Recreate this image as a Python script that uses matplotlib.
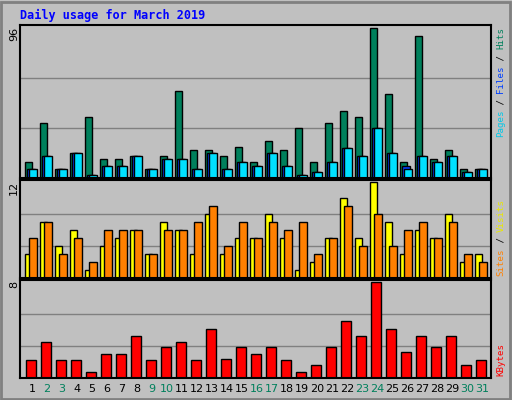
import matplotlib
matplotlib.use('Agg')
import matplotlib.pyplot as plt
from matplotlib.patches import Rectangle
import numpy as np

days = list(range(1, 32))
weekend = [2, 3, 9, 10, 16, 17, 23, 24, 30, 31]
hits = [10, 35, 6, 16, 39, 12, 12, 14, 6, 14, 56, 18, 18, 14, 20, 10,
        24, 18, 32, 10, 35, 43, 39, 96, 54, 10, 91, 12, 18, 6, 6]
files = [6, 14, 6, 16, 2, 8, 8, 14, 6, 12, 12, 6, 16, 6, 10, 8,
         16, 8, 2, 4, 10, 19, 14, 32, 16, 8, 14, 10, 14, 4, 6]
pages = [6, 14, 6, 16, 2, 8, 8, 14, 6, 12, 12, 6, 16, 6, 10, 8,
         16, 8, 2, 4, 10, 19, 14, 32, 16, 6, 14, 10, 14, 4, 6]
visits = [3, 7, 4, 6, 1, 4, 5, 6, 3, 7, 6, 3, 8, 3, 5, 5,
          8, 5, 1, 2, 5, 10, 5, 12, 7, 3, 6, 5, 8, 2, 3]
sites = [5, 7, 3, 5, 2, 6, 6, 6, 3, 6, 6, 7, 9, 4, 7, 5,
         7, 6, 7, 3, 5, 9, 4, 8, 4, 6, 7, 5, 7, 3, 2]
kbytes = [1.5, 3.0, 1.5, 1.5, 0.5, 2.0, 2.0, 3.5, 1.5, 2.55, 3.0, 1.5, 4.05, 1.6, 2.55, 2.0,
          2.55, 1.5, 0.5, 1.05, 2.55, 4.75, 3.5, 8.0, 4.05, 2.2, 3.5, 2.55, 3.5, 1.05, 1.5]

W, H = 512, 400
bg = '#c0c0c0'
fig = plt.figure(figsize=(W / 100, H / 100), dpi=100, facecolor=bg)
mono = 'DejaVu Sans Mono'
slot = 15.0  # px per day

def px_axes(x0, y0, x1, y1):
    return fig.add_axes([x0 / W, 1 - y1 / H, (x1 - x0) / W, (y1 - y0) / H])

x = np.arange(31)

def setup(ax, top):
    ax.set_facecolor(bg)
    ax.set_xlim(0, 471 / slot)
    ax.set_ylim(0, top * 1.02)
    ax.set_xticks([])
    ax.set_yticks([])
    for s in ax.spines.values():
        s.set_linewidth(1.5)
        s.set_color('black')
    for g in (top / 3, top * 2 / 3):
        ax.axhline(g, color='#808080', lw=1, zorder=0)

# top panel: hits / files / pages
ax1 = px_axes(20, 25, 491, 178)
setup(ax1, 96)
kw = dict(align='edge', edgecolor='black', linewidth=1)
ax1.bar(x + 0.33, hits, 0.5, color='#00805c', **kw)
ax1.bar(x + 0.47, files, 0.5, color='#0040ff', **kw)
ax1.bar(x + 0.6, pages, 0.5, color='#00e0ff', **kw)

# middle panel: visits / sites
ax2 = px_axes(20, 180, 491, 278)
setup(ax2, 12)
ax2.bar(x + 0.33, visits, 0.5, color='#ffff00', **kw)
ax2.bar(x + 0.6, sites, 0.5, color='#ff8000', **kw)

# bottom panel: kbytes
ax3 = px_axes(20, 280, 491, 378)
setup(ax3, 8)
ax3.bar(x + 0.4, kbytes, 0.66, color='#ff0000', **kw)

# day labels
for i, d in enumerate(days):
    c = '#00805c' if d in weekend else 'black'
    fig.text((20 + (i + 0.8) * slot) / W, 1 - 389 / H, str(d), color=c,
             fontsize=8, ha='center', va='center')

fig.text(20 / W, 1 - 15 / H, 'Daily usage for March 2019', color='#0000ff',
         fontsize=8.5, fontweight='bold', family=mono, va='center')

for yy, lab in [(27, '96'), (181, '12'), (281, '8')]:
    fig.text(14 / W, 1 - yy / H, lab, rotation=90, fontsize=8, ha='center', va='top')

def right_label(ymid, parts):
    # parts listed from bottom to top
    n = sum(len(t) for t, _ in parts)
    step = 5.5
    y = ymid + n * step / 2
    for t, c in parts:
        fig.text(501 / W, 1 - y / H, t, rotation=90, color=c, fontsize=6.6,
                 family=mono, ha='center', va='bottom')
        y -= len(t) * step

right_label(82, [('Pages', '#00c8e8'), (' / ', 'black'), ('Files', '#0040ff'),
                 (' / ', 'black'), ('Hits', '#00805c')])
right_label(237, [('Sites', '#ff8000'), (' / ', 'black'), ('Visits', '#e8e800')])
right_label(359, [('KBytes', '#ff0000')])

# outer bevel frame
fig.patches.append(Rectangle((1 / W, 1 / H), (W - 3) / W, (H - 3) / H, transform=fig.transFigure,
                             fill=False, edgecolor='#808080', lw=2))

fig.savefig('out.png', dpi=100, facecolor=bg)
